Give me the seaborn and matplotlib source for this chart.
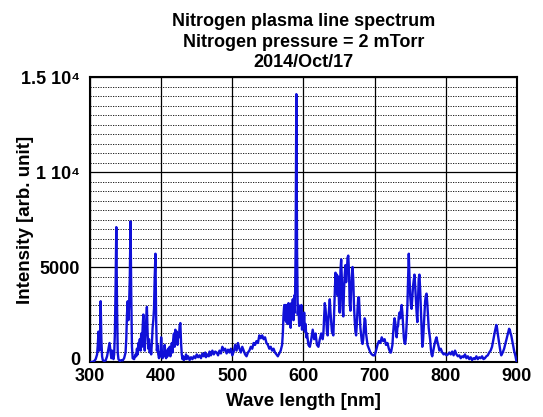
import numpy as np
import pandas as pd
import matplotlib
matplotlib.use("Agg")
import matplotlib.pyplot as plt
from matplotlib.ticker import MultipleLocator
from matplotlib.transforms import ScaledTranslation
import seaborn as sns


# =============================================================================
# DATA
# =============================================================================
wavelength = [
    300, 303, 306, 308, 310, 311, 312, 313, 314, 315, 316, 317, 318, 320, 322,
    324, 326, 327.5, 329, 330, 331, 332, 333, 334, 335, 336, 337, 338, 339, 340,
    342, 344, 346, 348, 350, 351, 352, 353, 354, 355, 356, 357, 358, 359, 360,
    362, 364, 365, 366, 367, 368, 369, 370, 371, 372, 373, 374, 375, 376, 377,
    378, 379, 380, 381, 382, 383, 384, 385, 386, 387, 388, 389, 390, 391, 392,
    393, 394, 395, 396, 397, 398, 399, 400, 401, 402, 403, 404, 405, 406, 407,
    408, 409, 410, 411, 412, 413, 414, 415, 416, 417, 418, 419, 420, 421, 422,
    423, 424, 425, 426, 427, 428, 429, 430, 431, 432, 434, 435, 436, 438, 440,
    442, 444, 446, 448, 450, 452, 454, 456, 458, 460, 462, 463, 465, 467, 468,
    470, 472, 474, 476, 478, 480, 482, 484, 486, 488, 490, 492, 494, 496, 498,
    500, 502, 504, 506, 508, 510, 512, 514, 516, 518, 520, 522, 524, 526, 528,
    530, 532, 534, 536, 538, 540, 542, 544, 546, 548, 550, 552, 554, 556, 558,
    560, 562, 564, 566, 568, 570, 571, 572, 573, 574, 575, 576, 577, 578, 579,
    580, 581, 582, 583, 584, 585, 586, 587, 588, 589, 590, 591, 592, 593, 594,
    595, 596, 597, 598, 599, 600, 601, 602, 603, 604, 605, 607, 609, 611, 613,
    615, 617, 619, 621, 623, 625, 627, 628, 630, 631, 632, 633, 634, 635, 636,
    637, 638, 640, 642, 644, 645, 646, 647, 648, 649, 650, 651, 652, 653, 654,
    655, 656, 657, 658, 659, 660, 661, 662, 663, 664, 665, 666, 667, 668, 669,
    670, 671, 672, 673, 674, 675, 676, 677, 678, 679, 680, 682, 683, 684, 685,
    686, 687, 688, 690, 692, 694, 696, 698, 700, 702, 704, 706, 708, 710, 712,
    714, 716, 718, 720, 722, 723, 725, 726, 727, 728, 729, 730, 731, 732, 733,
    734, 735, 736, 737, 738, 739, 740, 741, 742, 743, 744, 745, 746, 747, 748,
    749, 750, 751, 752, 753, 754, 755, 756, 757, 758, 759, 760, 761, 762, 763,
    764, 765, 766, 767, 768, 769, 770, 771, 772, 773, 774, 775, 776, 777, 778,
    779, 780, 781, 782, 784, 786, 787, 788, 790, 791, 793, 795, 797, 799, 801,
    803, 805, 807, 809, 811, 813, 815, 817, 819, 821, 823, 825, 827, 829, 831,
    833, 835, 837, 839, 841, 843, 845, 847, 849, 851, 853, 855, 857, 859, 861,
    863, 865, 867, 869, 871, 872, 873, 875, 877, 878, 880, 882, 884, 886, 888,
    889, 890, 891, 892, 894, 896, 898, 899, 900,
]

intensity = [
    0, 0, 50, 150, 400, 900, 1600, 600, 1000, 3200, 1200, 300, 100, 50, 80,
    300, 700, 1000, 500, 200, 600, 300, 150, 400, 1500, 4000, 7100, 3000, 500, 150,
    50, 100, 80, 200, 500, 1200, 2500, 3200, 2200, 3000, 4500, 7400, 3500, 800, 200,
    150, 400, 300, 700, 400, 1000, 700, 1200, 600, 1500, 800, 1800, 2500, 1200, 600,
    1600, 2200, 2900, 1500, 700, 1200, 500, 900, 400, 1000, 1800, 2200, 2800, 4500, 5700,
    2200, 600, 900, 400, 200, 500, 300, 1300, 600, 200, 500, 300, 900, 400, 200,
    600, 300, 700, 500, 800, 300, 600, 1000, 500, 1200, 1500, 800, 1700, 1000, 1600,
    900, 1500, 1300, 1900, 2050, 1000, 400, 150, 300, 100, 200, 400, 150, 300, 100,
    250, 150, 300, 200, 400, 250, 350, 200, 450, 300, 500, 250, 400, 300, 550,
    350, 600, 400, 550, 500, 350, 600, 450, 800, 600, 700, 450, 650, 500, 700,
    350, 550, 900, 600, 1000, 700, 500, 800, 600, 400, 300, 500, 600, 800, 700,
    1000, 900, 1100, 1000, 1400, 1250, 1400, 1200, 1300, 1000, 900, 700, 800, 600, 700,
    500, 400, 300, 450, 600, 900, 1500, 2500, 3000, 2200, 3000, 2100, 3000, 2000, 3100,
    2200, 3000, 1800, 3100, 2400, 3300, 2200, 3500, 2600, 6000, 14100, 6000, 2500, 3000, 1900,
    2900, 2000, 3000, 1700, 2400, 1800, 2600, 1600, 2000, 1300, 1500, 900, 800, 1200, 1700,
    1200, 1500, 900, 800, 1200, 1500, 1200, 1500, 3100, 2800, 2300, 1600, 1400, 2300, 2800,
    3300, 2600, 1600, 1400, 3500, 4700, 4200, 4600, 3500, 4500, 3000, 2600, 4800, 5400, 4300,
    2800, 2400, 3800, 4600, 5100, 4200, 4800, 5500, 5600, 4700, 3100, 2700, 3800, 4500, 5000,
    4300, 3000, 2200, 1600, 1400, 2000, 2800, 3400, 3400, 2600, 1800, 1100, 950, 1200, 1800,
    2300, 2200, 1500, 900, 700, 500, 400, 350, 350, 600, 900, 1100, 1000, 1300, 1100,
    1200, 900, 1000, 700, 500, 500, 900, 1500, 2000, 2300, 2100, 1600, 1300, 1800, 1900,
    2400, 2600, 2300, 2700, 3000, 2600, 1900, 1300, 1000, 950, 1300, 2000, 2900, 4200, 5700,
    4500, 3500, 3000, 2800, 3400, 4000, 4300, 4600, 4000, 3300, 2600, 2100, 3200, 4400, 4600,
    3800, 2800, 1800, 800, 1100, 1800, 2600, 3200, 3500, 3600, 3100, 2400, 1800, 1500, 1200,
    700, 400, 300, 500, 900, 1200, 1300, 1100, 800, 600, 700, 500, 400, 450, 350,
    400, 500, 400, 550, 350, 600, 400, 300, 350, 200, 300, 250, 400, 200, 300,
    150, 250, 100, 200, 150, 300, 150, 250, 200, 300, 150, 200, 300, 350, 500,
    600, 800, 1200, 1600, 1950, 1800, 1500, 1000, 500, 350, 500, 700, 1000, 1300, 1600,
    1750, 1700, 1500, 1400, 1000, 600, 300, 100, 0,
]

title_lines = [
    "Nitrogen plasma line spectrum",
    "Nitrogen pressure = 2 mTorr",
    "2014/Oct/17",
]
x_ticks = [300, 400, 500, 600, 700, 800, 900]
y_ticks = [0, 5000, 10000, 15000]
y_tick_labels = ["0", "5000", "1 10\u2074", "1.5 10\u2074"]


# =============================================================================
# PLOT
# =============================================================================
def dibujar():

    sns.set_style("white")
    plt.rcParams["font.family"] = ["Liberation Sans", "DejaVu Sans"]
    plt.rcParams["font.weight"] = "bold"
    plt.rcParams["text.color"] = "black"
    plt.rcParams["axes.labelcolor"] = "black"
    plt.rcParams["xtick.color"] = "black"
    plt.rcParams["ytick.color"] = "black"

    df = pd.DataFrame({"wl": wavelength, "I": intensity})

    fig = plt.figure(figsize=(5.43, 4.17), dpi=100)
    ax = fig.add_axes([0.1657, 0.1319, 0.7863, 0.6834])

    sns.lineplot(data=df, x="wl", y="I", ax=ax, color="#1010d8",
                 linewidth=1.7, zorder=3)

    ax.set_xlim(300, 900)
    ax.set_ylim(0, 15000)
    ax.set_xticks(x_ticks)
    ax.set_yticks(y_ticks)
    ax.set_yticklabels(y_tick_labels)
    ax.yaxis.set_minor_locator(MultipleLocator(500))

    ax.grid(True, which="major", axis="both", color="black", linewidth=0.9)
    ax.grid(True, which="minor", axis="y", color="black", linewidth=0.6,
            linestyle=(0, (1.5, 1.5)))
    ax.set_axisbelow(True)

    ax.tick_params(axis="both", which="both", length=0, labelsize=13)
    ax.tick_params(axis="x", pad=4)
    ax.tick_params(axis="y", pad=7)
    for lbl in ax.get_xticklabels() + ax.get_yticklabels():
        lbl.set_fontweight("bold")

    # the "0" sits a little above the baseline, clear of the "300"
    cero = ax.get_yticklabels()[0]
    cero.set_transform(cero.get_transform()
                       + ScaledTranslation(0, 2.5 / 72, fig.dpi_scale_trans))

    for sp in ax.spines.values():
        sp.set_color("black")
        sp.set_linewidth(1.5)

    ax.set_xlabel("Wave length [nm]", fontsize=13.5, fontweight="bold",
                  va="center")
    ax.xaxis.set_label_coords(0.5, -0.137)
    ax.set_ylabel("Intensity [arb. unit]", fontsize=13.5, fontweight="bold",
                  va="center")
    ax.yaxis.set_label_coords(-0.152, 0.5)
    ax.set_title("\n".join(title_lines), fontsize=13, fontweight="bold",
                 linespacing=1.27, pad=7)

    fig.savefig("out.png", dpi=100)
    plt.close(fig)


if __name__ == "__main__":

    dibujar()
